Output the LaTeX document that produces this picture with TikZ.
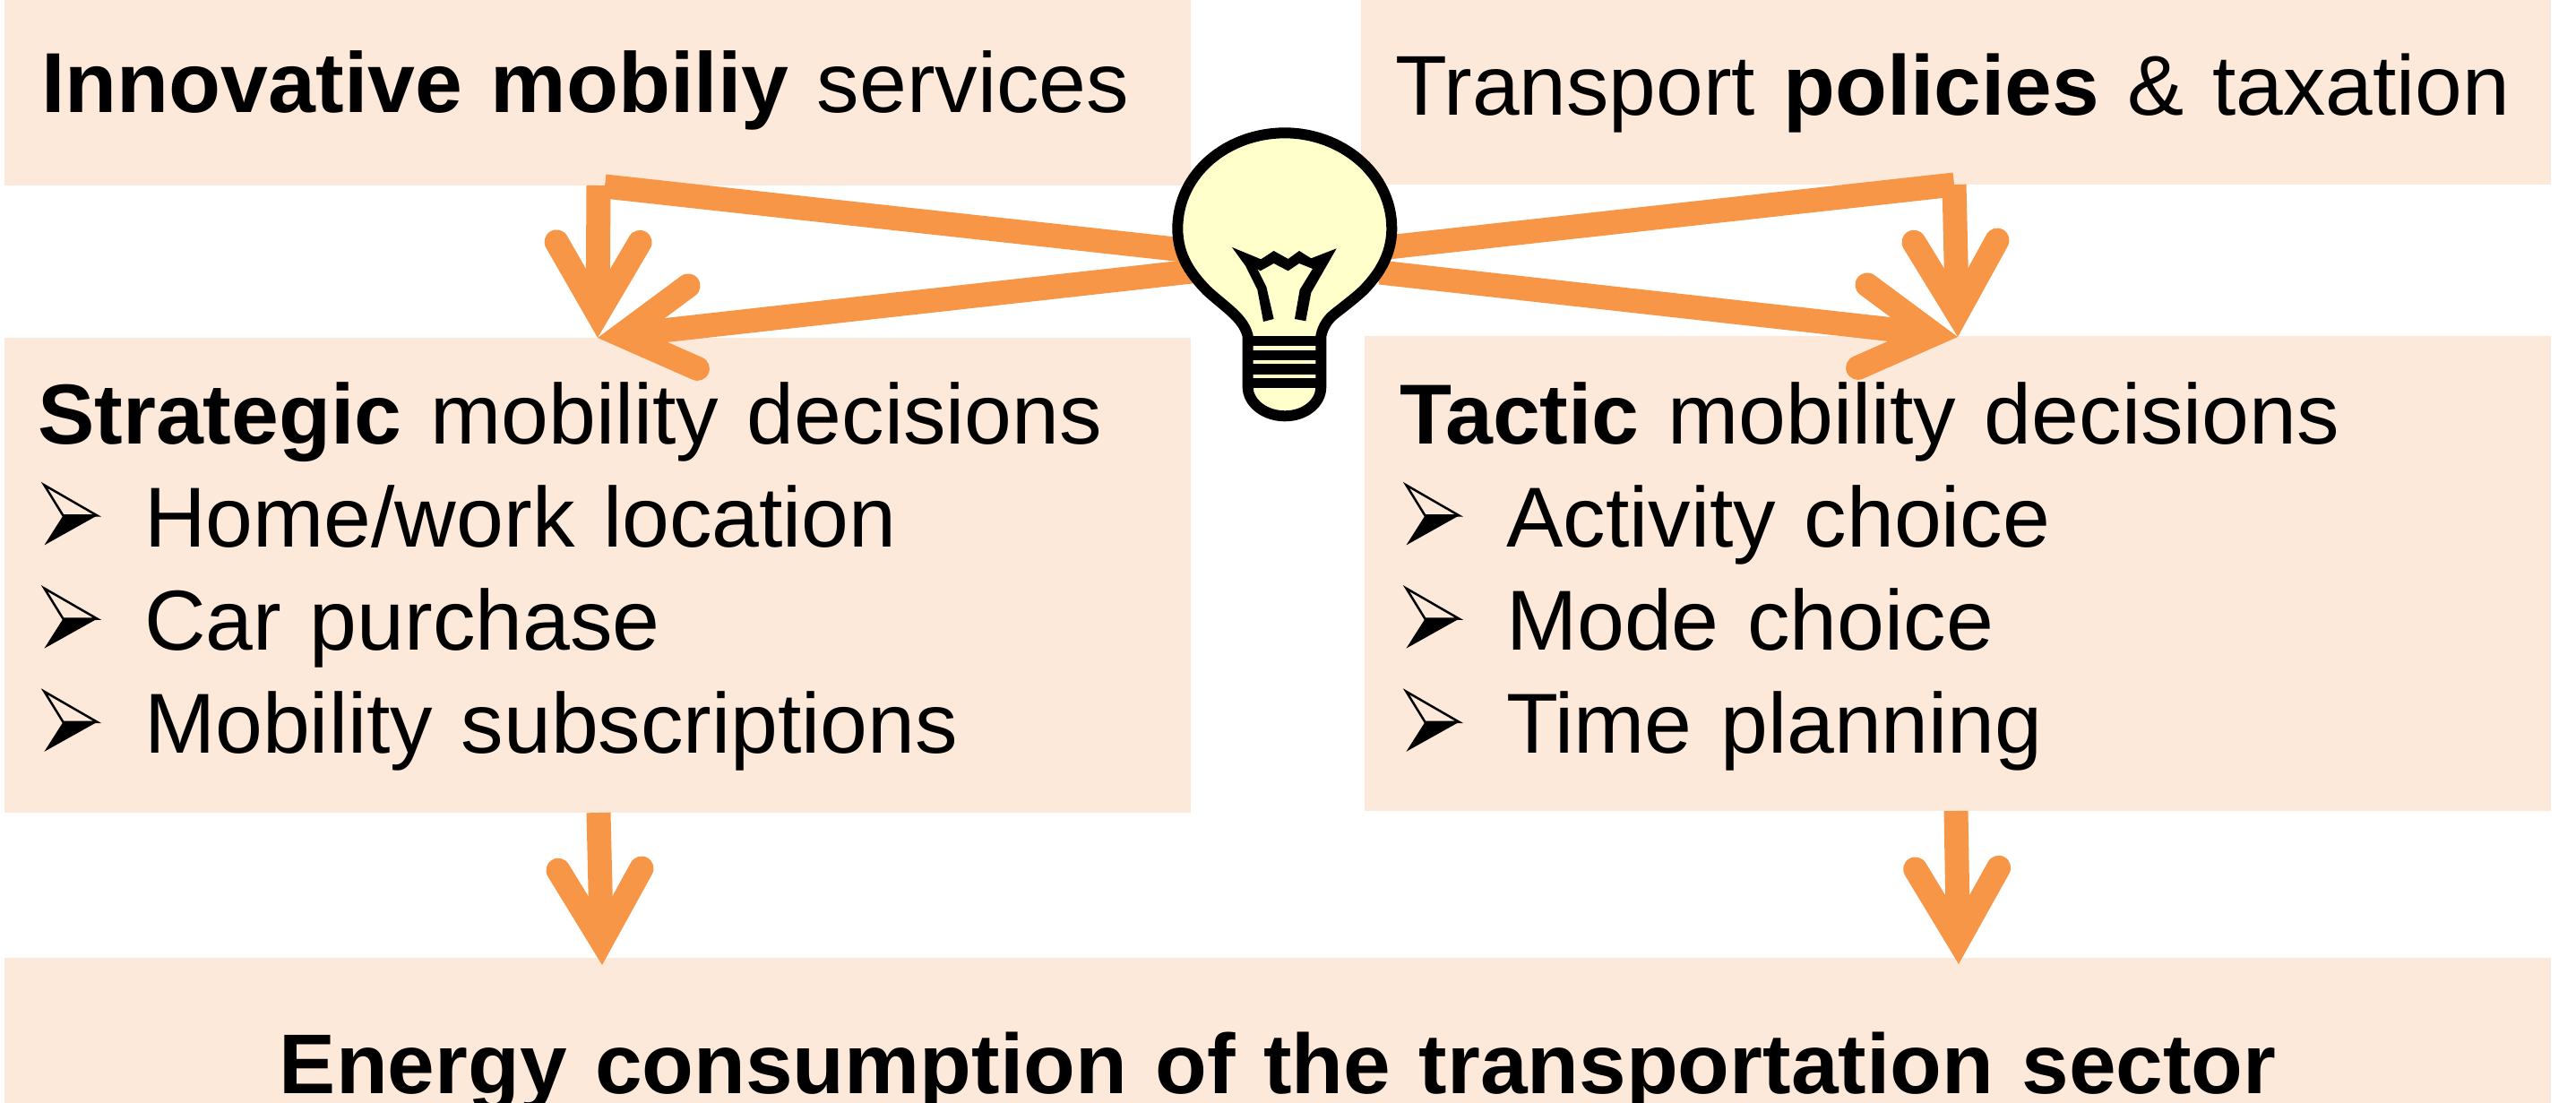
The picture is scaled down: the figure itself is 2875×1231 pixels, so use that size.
\documentclass[tikz,border=0pt]{standalone}
\usepackage{fontspec}
\setmainfont{Liberation Sans}
\usetikzlibrary{arrows.meta}
\definecolor{boxpeach}{HTML}{FDE9D9}
\definecolor{linkorange}{HTML}{F79646}
\definecolor{bulbyellow}{HTML}{FFFFCC}
\newcommand{\bulletitem}[1]{\makebox[119pt][l]{\hspace{6pt}\tikz[baseline=0pt, x=1pt, y=1pt]{%
    \fill (0,2) -- (21,35) -- (59,35) -- cycle;
    \draw[line width=2.5pt, line join=miter] (21,35) -- (0,69) -- (59,35) -- cycle;}}#1\\}
\tikzset{
  panel/.style={fill=boxpeach, anchor=north west, inner ysep=0pt, inner xsep=#1, align=left,
    font=\fontsize{95}{115.2}\selectfont},
  link/.style={draw=linkorange, line width=27pt},
  linkhead/.style={link, -{Straight Barb[length=80pt, width=93pt, line cap=round, line join=miter]}}
}
\begin{document}
\begin{tikzpicture}[x=1pt, y=-1pt]
    \useasboundingbox (0,0) rectangle (2875,1231);
    \node[panel=41pt, text width=1242pt, text height=125pt, text depth=82pt] (mobility) at (5,0)
        {\textbf{Innovative mobiliy} services};
    \node[panel=38pt, text width=1252pt, text height=128pt, text depth=78pt,
        font=\fontsize{94.7}{115}\selectfont] (policies) at (1519,0)
        {\mbox{Transport \textbf{policies} \& taxation}};
    \node[panel=37pt, text width=1250pt, text height=118pt, text depth=412pt] (strategic) at (5,377)
        {\textbf{Strategic} mobility decisions\\
         \bulletitem{Home/work location}
         \bulletitem{Car purchase}
         \bulletitem{Mobility subscriptions}};
    \node[panel=39pt, text width=1246pt, text height=120pt, text depth=410pt] (tactic) at (1523,375)
        {\textbf{Tactic} mobility decisions\\
         \bulletitem{Activity choice}
         \bulletitem{Mode choice}
         \bulletitem{Time planning}};
    \node[panel=0pt, text width=2842pt, text height=151pt, text depth=11pt, align=center,
        font=\fontsize{94.6}{115}\selectfont] (energy) at (5,1069)
        {\textbf{Energy consumption of the transportation sector}};
    % connectors
    \coordinate (bulbNW) at (1330,280);
    \coordinate (bulbSW) at (1330,303);
    \coordinate (bulbNE) at (1540,277);
    \coordinate (bulbSE) at (1540,304);
    \coordinate (cornerL) at (675,208);
    \coordinate (cornerR) at (2181,206);
    \coordinate (stemTL) at (668,207);
    \coordinate (tipL) at (667,377);
    \coordinate (tipR) at (2185,376);
    \coordinate (stemL) at (668,907);
    \coordinate (stemR) at (2183,905);
    \coordinate (tipEL) at (672,1077);
    \coordinate (tipER) at (2186,1076);
    \draw[link] (bulbNW) -- (cornerL);
    \draw[link] (bulbNE) -- (cornerR);
    \draw[linkhead] (stemTL) -- (tipL);
    \draw[linkhead] (cornerR) -- (tipR);
    \draw[linkhead] (bulbSW) -- (tipL);
    \draw[linkhead] (bulbSE) -- (tipR);
    \draw[linkhead] (stemL) -- (tipEL);
    \draw[linkhead] (stemR) -- (tipER);
    % bulb
    \begin{scope}[shift={(1200,100)}, x=0.3333pt, y=-0.3333pt]
        \draw[fill=bulbyellow, line width=12pt, line join=round]
            (578,825) .. controls (570,790) and (545,765) .. (530,750)
            .. controls (500,722) and (470,700) .. (440,672)
            .. controls (390,620) and (343,560) .. (343,465)
            .. controls (343,280) and (510,145) .. (702,145)
            .. controls (890,145) and (1060,280) .. (1060,465)
            .. controls (1060,560) and (1010,625) .. (965,672)
            .. controls (935,700) and (905,722) .. (870,750)
            .. controls (850,765) and (830,790) .. (823,825)
            -- (823,995) .. controls (823,1050) and (770,1093) .. (702,1093)
            .. controls (635,1093) and (578,1050) .. (578,995) -- cycle;
        \foreach \bandtop/\bandbot in {825/858, 872/907, 919/955, 965/1000}
            \fill (578,\bandtop) rectangle (823,\bandbot);
        \fill (525,528) -- (622,568) -- (665,540) -- (713,567) -- (750,540) -- (790,565) -- (875,532)
            -- (790,680) -- (772,775) -- (735,768) -- (752,670) -- (795,600) -- (750,582) -- (713,607)
            -- (665,582) -- (620,607) -- (610,600) -- (640,660) -- (665,768) -- (630,777) -- (610,670)
            -- (570,590) -- cycle;
    \end{scope}
\end{tikzpicture}
\end{document}
